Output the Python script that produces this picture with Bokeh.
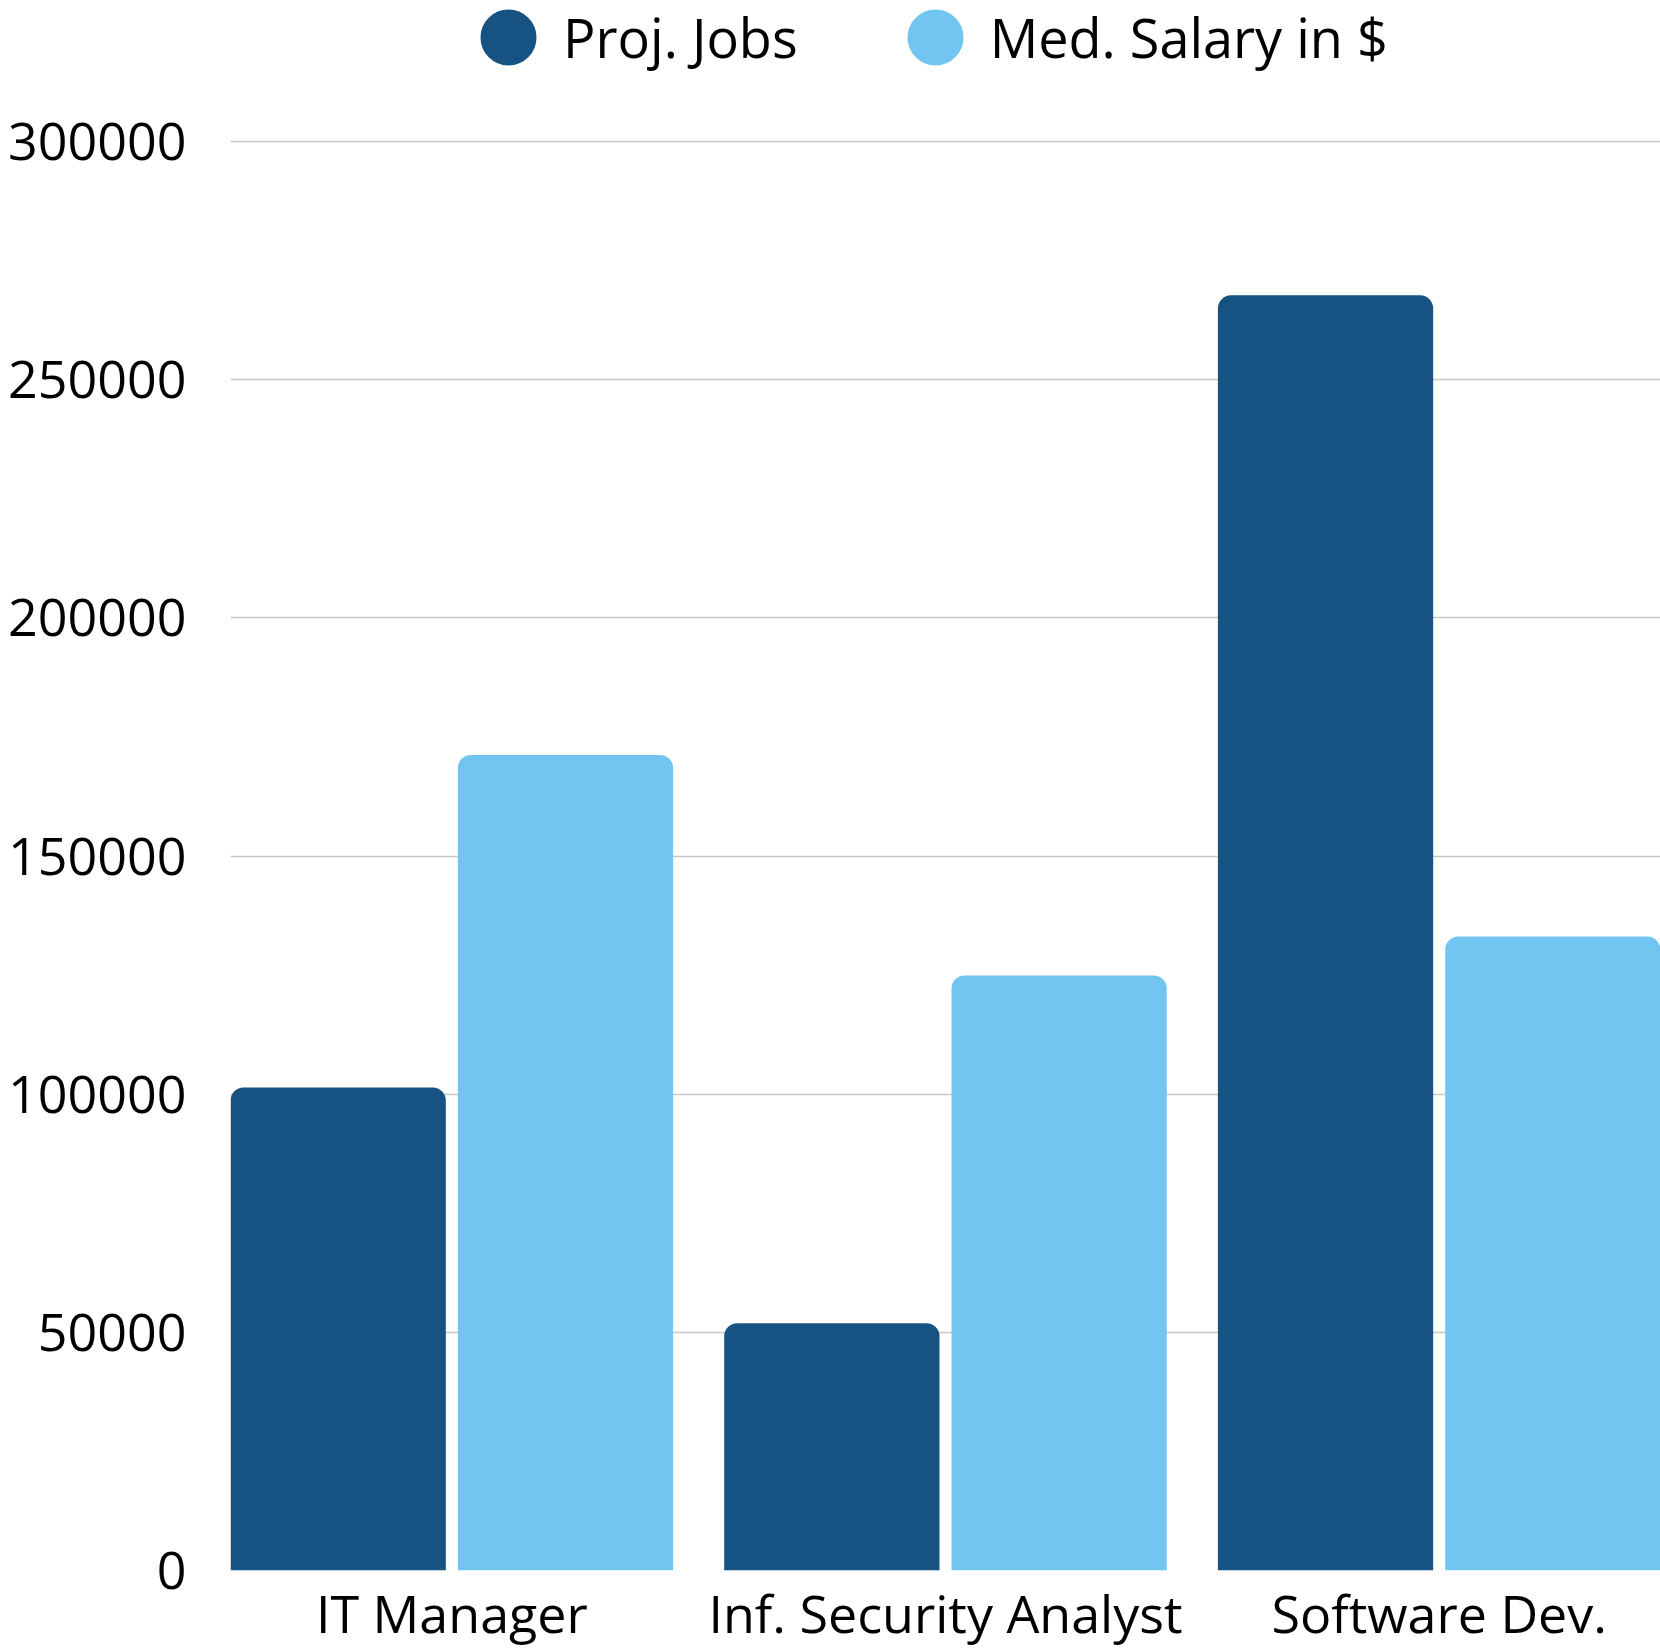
from bokeh.plotting import figure
from bokeh.models import (FactorRange, Range1d, ColumnDataSource, Legend, LegendItem,
                          FixedTicker, NumeralTickFormatter)
from bokeh.transform import dodge
from bokeh.embed import file_html
from bokeh.resources import INLINE

categories = ["IT Manager", "Inf. Security Analyst", "Software Dev."]
proj_jobs = [101400, 51900, 267700]
med_salary = [171200, 124910, 133080]
series_names = ["Proj. Jobs", "Med. Salary in $"]
y_ticks = [0, 50000, 100000, 150000, 200000, 250000, 300000]

DARK = "#165282"
LIGHT = "#73C5F1"
FONT = "Open Sans"
FS = "52px"

source = ColumnDataSource(dict(cat=categories, jobs=proj_jobs, salary=med_salary))

# frame spans the full top; headroom above 300000 holds the legend
y_top = 300000 * 1570 / 1429

p = figure(
    x_range=FactorRange(*categories, range_padding=-0.0517, range_padding_units="absolute"),
    y_range=Range1d(0, y_top),
    width=1660, height=1651,
    output_backend="svg", toolbar_location=None,
    min_border_left=230, min_border_right=0, min_border_top=0, min_border_bottom=81,
)
p.outline_line_color = None

bw = 0.4361
off = 0.2302
x_jobs = dodge("cat", -off, range=p.x_range)
x_sal = dodge("cat", off, range=p.x_range)
p.vbar(x=x_jobs, top="jobs", width=bw, source=source,
       fill_color=DARK, line_color=None, border_radius=(13, 13, 0, 0))
p.vbar(x=x_sal, top="salary", width=bw, source=source,
       fill_color=LIGHT, line_color=None, border_radius=(13, 13, 0, 0))

# hidden legend proxies (circle swatches)
r1 = p.scatter(x=x_jobs, y="jobs", source=source, marker="circle", size=0,
               fill_color=DARK, line_color=DARK, line_width=12, visible=False)
r2 = p.scatter(x=x_sal, y="salary", source=source, marker="circle", size=0,
               fill_color=LIGHT, line_color=LIGHT, line_width=12, visible=False)
legend = Legend(
    items=[LegendItem(label=series_names[0], renderers=[r1]),
           LegendItem(label=series_names[1], renderers=[r2])],
    location=(223, 1478), orientation="horizontal",
    glyph_width=110, glyph_height=110, label_standoff=0, spacing=82,
    padding=0, margin=0, border_line_color=None, background_fill_alpha=0,
    label_text_font_size="54px", label_text_font=FONT, label_text_color="black",
    click_policy="none",
)
p.add_layout(legend)

p.yaxis.ticker = FixedTicker(ticks=y_ticks)
p.yaxis.formatter = NumeralTickFormatter(format="0")
for ax in (p.xaxis, p.yaxis):
    ax.axis_line_color = None
    ax.major_tick_line_color = None
    ax.minor_tick_line_color = None
    ax.major_tick_out = 0
    ax.major_label_text_font = FONT
    ax.major_label_text_font_size = FS
    ax.major_label_text_color = "black"
p.yaxis.major_label_standoff = 44
p.xaxis.major_label_standoff = 6

p.xgrid.grid_line_color = None
p.ygrid.grid_line_color = "#c8c8c8"
p.ygrid.grid_line_width = 1.5

open("out.html", "w").write(file_html(p, INLINE))
